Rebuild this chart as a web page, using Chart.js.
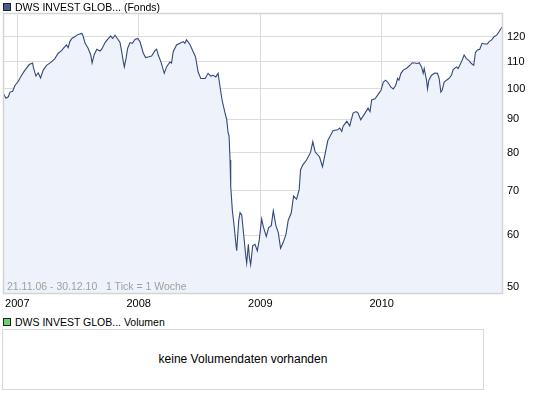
<!DOCTYPE html>
<html>
<head>
<meta charset="utf-8">
<script src="https://cdn.jsdelivr.net/npm/chart.js@4.4.0/dist/chart.umd.min.js"></script>
<style>
    body { margin: 0; background: #fff; font-family: "Liberation Sans", Arial, sans-serif; }
    #wrap { position: relative; width: 545px; height: 398px; overflow: hidden; }
    #priceChart { position: absolute; left: 0; top: 0; }
    .legend { position: absolute; left: 3px; font-size: 10.5px; color: #000; white-space: nowrap; line-height: 12px; }
    .legend .box { display: inline-block; width: 6px; height: 6px; border: 1px solid #222; vertical-align: 0px; margin-right: 4px; }
    .range { position: absolute; left: 7px; top: 280px; font-size: 10.5px; color: #a0a0a0; white-space: nowrap; }
    .volbox { position: absolute; left: 2px; top: 329px; width: 480px; height: 59px; border: 1px solid #d8d8d8;
              text-align: center; line-height: 59px; font-size: 12px; color: #000; }
</style>
</head>
<body>
<div id="wrap">
    <canvas id="priceChart" width="545" height="310"></canvas>
    <div class="legend" style="top:1px"><span class="box" style="background:#475c8c"></span>DWS INVEST GLOB... (Fonds)</div>
    <div class="range">21.11.06 - 30.12.10&nbsp;&nbsp;&nbsp;1 Tick = 1 Woche</div>
    <div class="legend" style="top:316px"><span class="box" style="background:#6cd36c"></span>DWS INVEST GLOB... Volumen</div>
    <div class="volbox">keine Volumendaten vorhanden</div>
</div>
<script>
        // days since 21.11.2006
        const priceDays = [
            0, 7, 14, 19, 27, 34, 44, 54, 64, 77, 87, 89, 97, 104, 111, 119, 129, 144, 154, 164,
            174, 184, 189, 194, 199, 205, 214, 224, 235, 239, 245, 254, 262, 266, 272, 280, 290, 295, 305, 315,
            322, 328, 335, 342, 350, 355, 360, 363, 368, 373, 380, 387, 395, 403, 410, 420, 427, 437, 445, 455,
            460, 465, 473, 483, 490, 500, 505, 510, 520, 530, 540, 545, 550, 560, 570, 577, 585, 593, 606, 615,
            623, 630, 638, 645, 651, 657, 666, 671, 675, 678, 681, 683, 688, 693, 699, 701, 707, 711, 716, 721,
            728, 731, 736, 739, 743, 749, 756, 763, 769, 776, 781, 790, 797, 805, 811, 819, 826, 833, 841, 849,
            856, 865, 872, 881, 889, 893, 900, 911, 923, 930, 937, 950, 959, 966, 975, 991, 1003, 1011, 1017, 1021,
            1032, 1041, 1051, 1060, 1066, 1074, 1087, 1096, 1102, 1107, 1117, 1127, 1135, 1142, 1149, 1157, 1165, 1172, 1179, 1185,
            1189, 1195, 1202, 1212, 1224, 1229, 1237, 1245, 1250, 1257, 1262, 1265, 1269, 1272, 1275, 1279, 1287, 1297, 1305, 1310,
            1315, 1319, 1325, 1332, 1339, 1347, 1352, 1362, 1367, 1372, 1379, 1385, 1392, 1399, 1407, 1414, 1419, 1425, 1432, 1439,
            1447, 1455, 1460, 1468, 1475, 1483, 1490, 1496, 1500
        ];
        const priceValues = [
            98.2, 96.8, 97.3, 98.9, 99.2, 101.2, 102.7, 104.9, 106.8, 108.9, 109.5, 108.0, 104.6, 105.8, 103.9, 106.8, 108.6, 109.9, 111.2, 113.3,
            114.3, 115.9, 116.6, 115.5, 118.0, 119.3, 120.0, 121.0, 121.4, 120.3, 117.3, 115.3, 112.6, 109.5, 112.6, 114.9, 114.2, 114.9, 117.6, 119.3,
            120.3, 119.3, 120.7, 119.3, 117.6, 113.9, 109.9, 108.0, 111.2, 115.3, 117.6, 117.3, 118.9, 119.3, 118.0, 113.3, 111.6, 111.9, 112.2, 114.3,
            114.9, 112.6, 109.9, 105.6, 108.0, 109.9, 109.5, 113.9, 116.6, 117.3, 118.0, 117.3, 118.7, 116.9, 113.9, 111.9, 106.1, 103.7, 103.7, 105.6,
            104.6, 104.9, 104.3, 105.6, 100.6, 96.2, 91.9, 89.8, 85.8, 84.8, 78.0, 71.1, 65.3, 62.1, 57.9, 56.8, 63.1, 64.9, 64.4, 60.8,
            55.9, 54.4, 58.1, 55.6, 54.1, 57.8, 58.1, 56.8, 59.1, 63.5, 61.8, 59.7, 61.6, 62.0, 65.3, 62.0, 60.5, 57.3, 58.5, 60.1,
            63.2, 64.8, 68.8, 68.0, 70.3, 75.4, 76.7, 78.0, 80.1, 83.2, 80.2, 78.9, 76.2, 79.3, 83.5, 86.5, 86.6, 87.2, 86.2, 87.8,
            89.3, 87.9, 91.9, 92.4, 91.9, 89.8, 91.9, 93.5, 92.4, 96.2, 96.6, 98.2, 99.5, 102.4, 103.1, 102.1, 100.6, 100.0, 101.2, 103.7,
            103.1, 105.6, 106.8, 107.5, 108.9, 109.6, 109.5, 109.3, 109.6, 108.0, 105.6, 107.4, 104.9, 103.1, 100.0, 103.1, 104.9, 105.7, 105.6, 103.7,
            98.9, 99.5, 102.4, 103.1, 103.7, 104.9, 107.0, 108.0, 107.4, 108.6, 110.5, 112.6, 111.2, 110.5, 109.3, 108.6, 113.5, 114.6, 114.9, 117.3,
            117.0, 117.0, 118.0, 118.7, 120.0, 120.7, 122.1, 123.5, 124.3
        ];

        // year gridlines (days since 21.11.2006)
        const yearDays = [41, 406, 772, 1137];
        const yearLabels = ['2007', '2008', '2009', '2010'];
        const priceTicks = [50, 60, 70, 80, 90, 100, 110, 120];

        const tickFont = { family: '"Liberation Sans", Arial, sans-serif', size: 11 };

        // light frame round the plot area
        const frame = {
            id: 'frame',
            afterDraw(chart) {
                const a = chart.chartArea;
                const ctx = chart.ctx;
                ctx.save();
                ctx.strokeStyle = '#d4d4d4';
                ctx.lineWidth = 1.5;
                ctx.strokeRect(a.left + 0.5, a.top + 0.5, a.right - a.left - 1, a.bottom - a.top);
                ctx.restore();
            }
        };

        function initChart() {
            const ctx = document.getElementById('priceChart').getContext('2d');
            new Chart(ctx, {
                type: 'line',
                data: {
                    datasets: [{
                        data: priceDays.map((d, i) => ({ x: d, y: priceValues[i] })),
                        borderColor: '#34497a',
                        borderWidth: 1.1,
                        backgroundColor: '#eef2fa',
                        fill: 'start',
                        pointRadius: 0,
                        tension: 0
                    }]
                },
                options: {
                    responsive: false,
                    animation: false,
                    devicePixelRatio: 1,
                    layout: { padding: { left: 3, top: 13, right: 0, bottom: 0 } },
                    plugins: { legend: { display: false }, tooltip: { enabled: false } },
                    scales: {
                        x: {
                            type: 'linear',
                            min: -2,
                            max: 1502,
                            afterBuildTicks: s => { s.ticks = yearDays.map(v => ({ value: v })); },
                            afterFit: s => { s.height = 17; },
                            ticks: {
                                callback: v => yearLabels[yearDays.indexOf(v)],
                                autoSkip: false,
                                maxRotation: 0,
                                padding: 4,
                                color: '#000',
                                font: tickFont
                            },
                            grid: { color: '#dcdcdc', drawTicks: false },
                            border: { display: false }
                        },
                        y: {
                            type: 'logarithmic',
                            position: 'right',
                            min: 49,
                            max: 130.4,
                            afterBuildTicks: s => { s.ticks = priceTicks.map(v => ({ value: v })); },
                            afterFit: s => { s.width = 42; },
                            ticks: {
                                callback: v => String(v),
                                padding: 4,
                                color: '#000',
                                font: tickFont
                            },
                            grid: { color: '#dcdcdc', drawTicks: false },
                            border: { display: false }
                        }
                    }
                },
                plugins: [frame]
            });
        }

        window.onload = initChart;
</script>
</body>
</html>
